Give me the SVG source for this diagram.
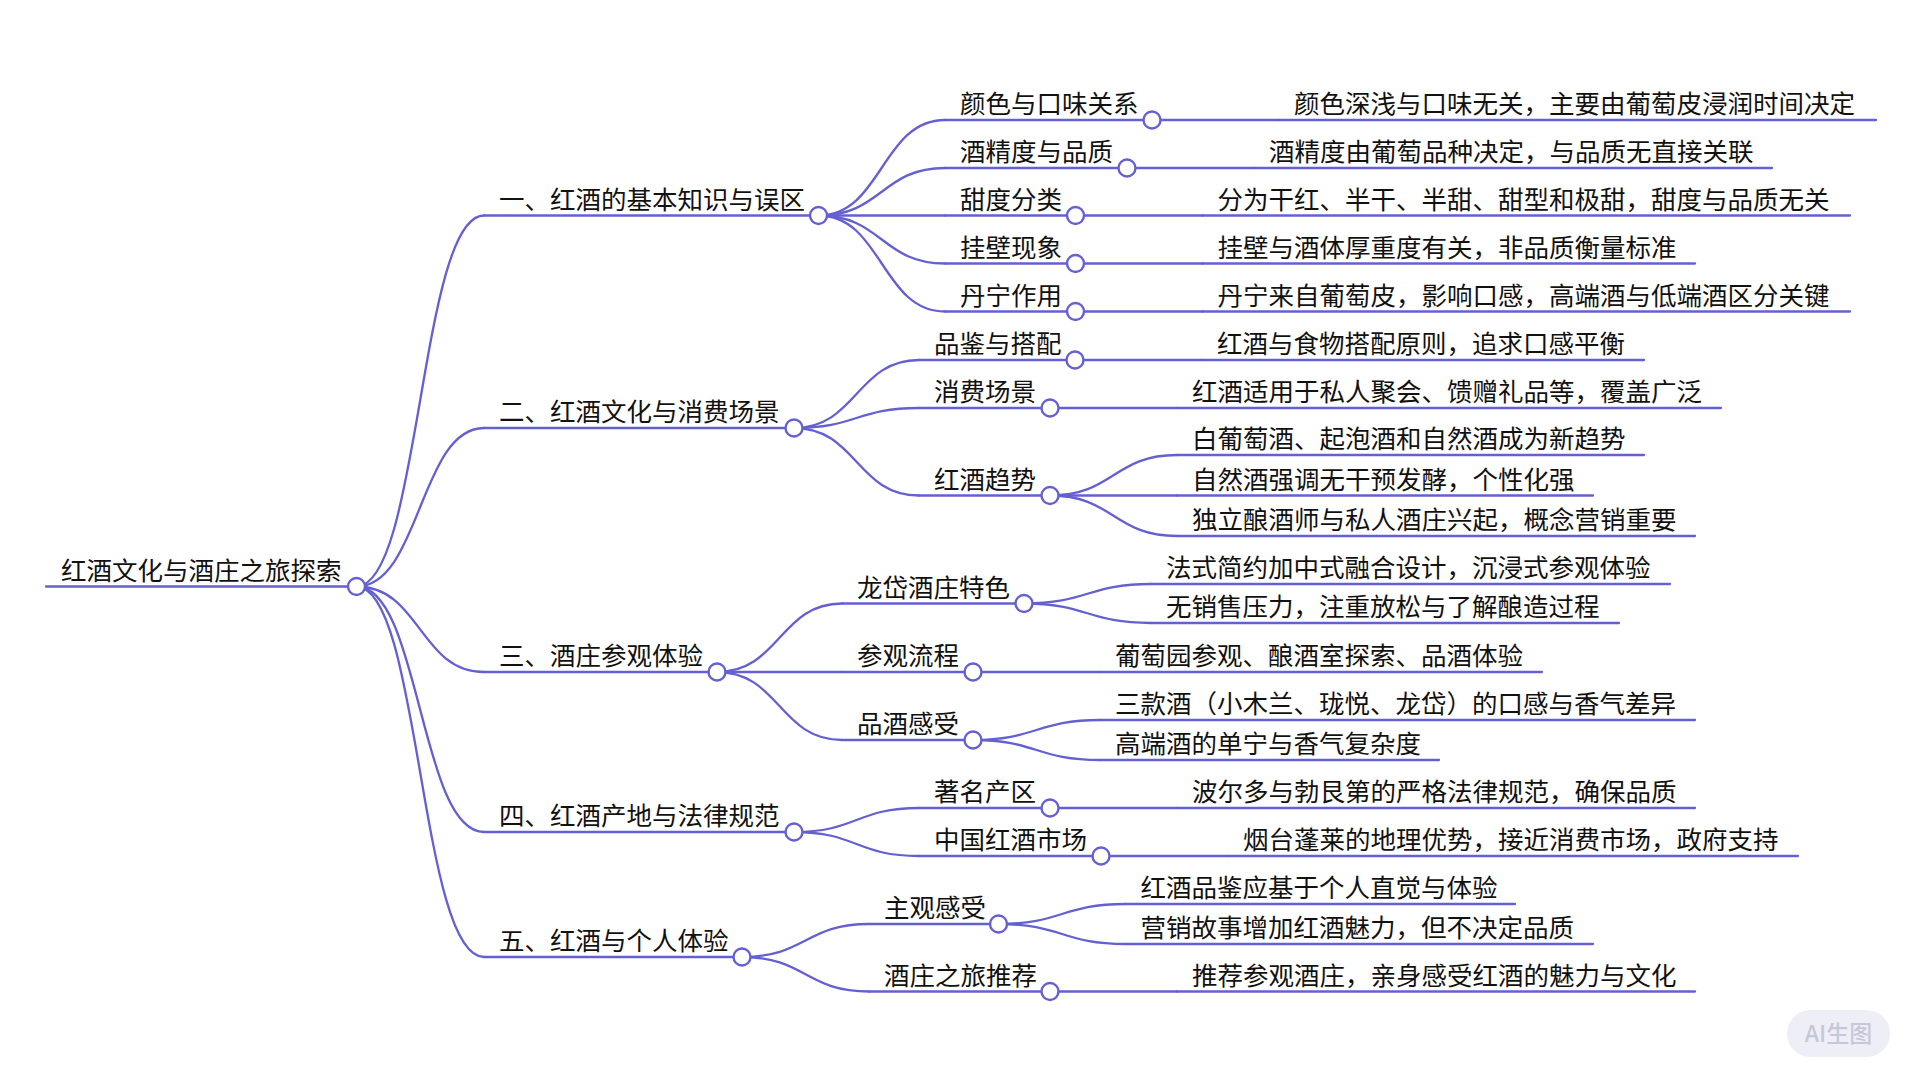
<svg xmlns="http://www.w3.org/2000/svg" width="1920" height="1080" viewBox="0 0 1920 1080">
<style>
.bg{fill:#ffffff}
.lk{fill:none;stroke:#6460d2;stroke-width:2.3;stroke-linecap:round}
.ul{stroke:#6460d2;stroke-width:2.3;stroke-linecap:round}
.dot{fill:#ffffff;stroke:#6460d2;stroke-width:2.4}
.t{font-family:"Noto Sans CJK SC","Noto Sans",sans-serif;font-size:25.5px;fill:#111111}
.wm{fill:#eeeff6}
.wmt{font-family:"Noto Sans CJK SC","Noto Sans",sans-serif;font-size:23px;font-weight:500;fill:#c6c8da}
</style>
<rect class="bg" x="0" y="0" width="1920" height="1080"/>
<g id="connectors">
<path class="lk" d="M356.5 586.5 C420 586.5 420 215.5 484 215.5"/>
<path class="lk" d="M356.5 586.5 C420 586.5 420 428 484 428"/>
<path class="lk" d="M356.5 586.5 C420 586.5 420 672 484 672"/>
<path class="lk" d="M356.5 586.5 C420 586.5 420 832 484 832"/>
<path class="lk" d="M356.5 586.5 C420 586.5 420 957 484 957"/>
<path class="lk" d="M818.5 215.5 C881.75 215.5 881.75 120 945 120"/>
<path class="lk" d="M818.5 215.5 C881.75 215.5 881.75 168 945 168"/>
<path class="lk" d="M818.5 215.5 C881.75 215.5 881.75 215.5 945 215.5"/>
<path class="lk" d="M818.5 215.5 C881.75 215.5 881.75 263.5 945 263.5"/>
<path class="lk" d="M818.5 215.5 C881.75 215.5 881.75 311.5 945 311.5"/>
<path class="lk" d="M794 428 C856.5 428 856.5 360 919 360"/>
<path class="lk" d="M794 428 C856.5 428 856.5 408 919 408"/>
<path class="lk" d="M794 428 C856.5 428 856.5 495.5 919 495.5"/>
<path class="lk" d="M717 672 C779.5 672 779.5 603.5 842 603.5"/>
<path class="lk" d="M717 672 C779.5 672 779.5 672 842 672"/>
<path class="lk" d="M717 672 C779.5 672 779.5 740 842 740"/>
<path class="lk" d="M794 832 C856.5 832 856.5 808 919 808"/>
<path class="lk" d="M794 832 C856.5 832 856.5 856 919 856"/>
<path class="lk" d="M742 957 C805.5 957 805.5 924 869 924"/>
<path class="lk" d="M742 957 C805.5 957 805.5 991.5 869 991.5"/>
<path class="lk" d="M1152 120 L1279 120"/>
<path class="lk" d="M1127 168 L1254 168"/>
<path class="lk" d="M1075.5 215.5 L1202.5 215.5"/>
<path class="lk" d="M1075.5 263.5 L1202.5 263.5"/>
<path class="lk" d="M1075.5 311.5 L1202.5 311.5"/>
<path class="lk" d="M1075 360 L1202 360"/>
<path class="lk" d="M1050 408 L1177 408"/>
<path class="lk" d="M1050 495.5 C1113.5 495.5 1113.5 455 1177 455"/>
<path class="lk" d="M1050 495.5 C1113.5 495.5 1113.5 495.5 1177 495.5"/>
<path class="lk" d="M1050 495.5 C1113.5 495.5 1113.5 536 1177 536"/>
<path class="lk" d="M1024 603.5 C1087.5 603.5 1087.5 584 1151 584"/>
<path class="lk" d="M1024 603.5 C1087.5 603.5 1087.5 623 1151 623"/>
<path class="lk" d="M973 672 L1100 672"/>
<path class="lk" d="M973 740 C1036.5 740 1036.5 720 1100 720"/>
<path class="lk" d="M973 740 C1036.5 740 1036.5 760 1100 760"/>
<path class="lk" d="M1050 808 L1177 808"/>
<path class="lk" d="M1101 856 L1228 856"/>
<path class="lk" d="M998.5 924 C1062 924 1062 904 1125.5 904"/>
<path class="lk" d="M998.5 924 C1062 924 1062 944 1125.5 944"/>
<path class="lk" d="M1050 991.5 L1177 991.5"/>
</g>
<g id="root"><line class="ul" x1="46" y1="586.5" x2="356.5" y2="586.5"/><text class="t" x="61" y="579.5">红酒文化与酒庄之旅探索</text><circle class="dot" cx="356.5" cy="586.5" r="8.5"/></g>
<g id="n1"><line class="ul" x1="484" y1="215.5" x2="818.5" y2="215.5"/><text class="t" x="499" y="208.5">一、红酒的基本知识与误区</text><circle class="dot" cx="818.5" cy="215.5" r="8.5"/></g>
<g id="n1-1"><line class="ul" x1="945" y1="120" x2="1152" y2="120"/><text class="t" x="960" y="113">颜色与口味关系</text><circle class="dot" cx="1152" cy="120" r="8.5"/></g>
<g id="n1-1-1"><line class="ul" x1="1279" y1="120" x2="1876" y2="120"/><text class="t" x="1294" y="113">颜色深浅与口味无关，主要由葡萄皮浸润时间决定</text></g>
<g id="n1-2"><line class="ul" x1="945" y1="168" x2="1127" y2="168"/><text class="t" x="960" y="161">酒精度与品质</text><circle class="dot" cx="1127" cy="168" r="8.5"/></g>
<g id="n1-2-1"><line class="ul" x1="1254" y1="168" x2="1772" y2="168"/><text class="t" x="1269" y="161">酒精度由葡萄品种决定，与品质无直接关联</text></g>
<g id="n1-3"><line class="ul" x1="945" y1="215.5" x2="1075.5" y2="215.5"/><text class="t" x="960" y="208.5">甜度分类</text><circle class="dot" cx="1075.5" cy="215.5" r="8.5"/></g>
<g id="n1-3-1"><line class="ul" x1="1202.5" y1="215.5" x2="1850" y2="215.5"/><text class="t" x="1217.5" y="208.5">分为干红、半干、半甜、甜型和极甜，甜度与品质无关</text></g>
<g id="n1-4"><line class="ul" x1="945" y1="263.5" x2="1075.5" y2="263.5"/><text class="t" x="960" y="256.5">挂壁现象</text><circle class="dot" cx="1075.5" cy="263.5" r="8.5"/></g>
<g id="n1-4-1"><line class="ul" x1="1202.5" y1="263.5" x2="1695" y2="263.5"/><text class="t" x="1217.5" y="256.5">挂壁与酒体厚重度有关，非品质衡量标准</text></g>
<g id="n1-5"><line class="ul" x1="945" y1="311.5" x2="1075.5" y2="311.5"/><text class="t" x="960" y="304.5">丹宁作用</text><circle class="dot" cx="1075.5" cy="311.5" r="8.5"/></g>
<g id="n1-5-1"><line class="ul" x1="1202.5" y1="311.5" x2="1850" y2="311.5"/><text class="t" x="1217.5" y="304.5">丹宁来自葡萄皮，影响口感，高端酒与低端酒区分关键</text></g>
<g id="n2"><line class="ul" x1="484" y1="428" x2="794" y2="428"/><text class="t" x="499" y="421">二、红酒文化与消费场景</text><circle class="dot" cx="794" cy="428" r="8.5"/></g>
<g id="n2-1"><line class="ul" x1="919" y1="360" x2="1075" y2="360"/><text class="t" x="934" y="353">品鉴与搭配</text><circle class="dot" cx="1075" cy="360" r="8.5"/></g>
<g id="n2-1-1"><line class="ul" x1="1202" y1="360" x2="1644" y2="360"/><text class="t" x="1217" y="353">红酒与食物搭配原则，追求口感平衡</text></g>
<g id="n2-2"><line class="ul" x1="919" y1="408" x2="1050" y2="408"/><text class="t" x="934" y="401">消费场景</text><circle class="dot" cx="1050" cy="408" r="8.5"/></g>
<g id="n2-2-1"><line class="ul" x1="1177" y1="408" x2="1721" y2="408"/><text class="t" x="1192" y="401">红酒适用于私人聚会、馈赠礼品等，覆盖广泛</text></g>
<g id="n2-3"><line class="ul" x1="919" y1="495.5" x2="1050" y2="495.5"/><text class="t" x="934" y="488.5">红酒趋势</text><circle class="dot" cx="1050" cy="495.5" r="8.5"/></g>
<g id="n2-3-1"><line class="ul" x1="1177" y1="455" x2="1644" y2="455"/><text class="t" x="1192" y="448">白葡萄酒、起泡酒和自然酒成为新趋势</text></g>
<g id="n2-3-2"><line class="ul" x1="1177" y1="495.5" x2="1593" y2="495.5"/><text class="t" x="1192" y="488.5">自然酒强调无干预发酵，个性化强</text></g>
<g id="n2-3-3"><line class="ul" x1="1177" y1="536" x2="1695" y2="536"/><text class="t" x="1192" y="529">独立酿酒师与私人酒庄兴起，概念营销重要</text></g>
<g id="n3"><line class="ul" x1="484" y1="672" x2="717" y2="672"/><text class="t" x="499" y="665">三、酒庄参观体验</text><circle class="dot" cx="717" cy="672" r="8.5"/></g>
<g id="n3-1"><line class="ul" x1="842" y1="603.5" x2="1024" y2="603.5"/><text class="t" x="857" y="596.5">龙岱酒庄特色</text><circle class="dot" cx="1024" cy="603.5" r="8.5"/></g>
<g id="n3-1-1"><line class="ul" x1="1151" y1="584" x2="1670" y2="584"/><text class="t" x="1166" y="577">法式简约加中式融合设计，沉浸式参观体验</text></g>
<g id="n3-1-2"><line class="ul" x1="1151" y1="623" x2="1619" y2="623"/><text class="t" x="1166" y="616">无销售压力，注重放松与了解酿造过程</text></g>
<g id="n3-2"><line class="ul" x1="842" y1="672" x2="973" y2="672"/><text class="t" x="857" y="665">参观流程</text><circle class="dot" cx="973" cy="672" r="8.5"/></g>
<g id="n3-2-1"><line class="ul" x1="1100" y1="672" x2="1542" y2="672"/><text class="t" x="1115" y="665">葡萄园参观、酿酒室探索、品酒体验</text></g>
<g id="n3-3"><line class="ul" x1="842" y1="740" x2="973" y2="740"/><text class="t" x="857" y="733">品酒感受</text><circle class="dot" cx="973" cy="740" r="8.5"/></g>
<g id="n3-3-1"><line class="ul" x1="1100" y1="720" x2="1695" y2="720"/><text class="t" x="1115" y="713">三款酒（小木兰、珑悦、龙岱）的口感与香气差异</text></g>
<g id="n3-3-2"><line class="ul" x1="1100" y1="760" x2="1439" y2="760"/><text class="t" x="1115" y="753">高端酒的单宁与香气复杂度</text></g>
<g id="n4"><line class="ul" x1="484" y1="832" x2="794" y2="832"/><text class="t" x="499" y="825">四、红酒产地与法律规范</text><circle class="dot" cx="794" cy="832" r="8.5"/></g>
<g id="n4-1"><line class="ul" x1="919" y1="808" x2="1050" y2="808"/><text class="t" x="934" y="801">著名产区</text><circle class="dot" cx="1050" cy="808" r="8.5"/></g>
<g id="n4-1-1"><line class="ul" x1="1177" y1="808" x2="1695" y2="808"/><text class="t" x="1192" y="801">波尔多与勃艮第的严格法律规范，确保品质</text></g>
<g id="n4-2"><line class="ul" x1="919" y1="856" x2="1101" y2="856"/><text class="t" x="934" y="849">中国红酒市场</text><circle class="dot" cx="1101" cy="856" r="8.5"/></g>
<g id="n4-2-1"><line class="ul" x1="1228" y1="856" x2="1798" y2="856"/><text class="t" x="1243" y="849">烟台蓬莱的地理优势，接近消费市场，政府支持</text></g>
<g id="n5"><line class="ul" x1="484" y1="957" x2="742" y2="957"/><text class="t" x="499" y="950">五、红酒与个人体验</text><circle class="dot" cx="742" cy="957" r="8.5"/></g>
<g id="n5-1"><line class="ul" x1="869" y1="924" x2="998.5" y2="924"/><text class="t" x="884" y="917">主观感受</text><circle class="dot" cx="998.5" cy="924" r="8.5"/></g>
<g id="n5-1-1"><line class="ul" x1="1125.5" y1="904" x2="1515" y2="904"/><text class="t" x="1140.5" y="897">红酒品鉴应基于个人直觉与体验</text></g>
<g id="n5-1-2"><line class="ul" x1="1125.5" y1="944" x2="1593" y2="944"/><text class="t" x="1140.5" y="937">营销故事增加红酒魅力，但不决定品质</text></g>
<g id="n5-2"><line class="ul" x1="869" y1="991.5" x2="1050" y2="991.5"/><text class="t" x="884" y="984.5">酒庄之旅推荐</text><circle class="dot" cx="1050" cy="991.5" r="8.5"/></g>
<g id="n5-2-1"><line class="ul" x1="1177" y1="991.5" x2="1695" y2="991.5"/><text class="t" x="1192" y="984.5">推荐参观酒庄，亲身感受红酒的魅力与文化</text></g>
<g id="watermark"><rect class="wm" x="1787" y="1010" width="103" height="47" rx="23.5"/><text class="wmt" x="1838.5" y="1041.5" text-anchor="middle">AI生图</text></g>
</svg>
